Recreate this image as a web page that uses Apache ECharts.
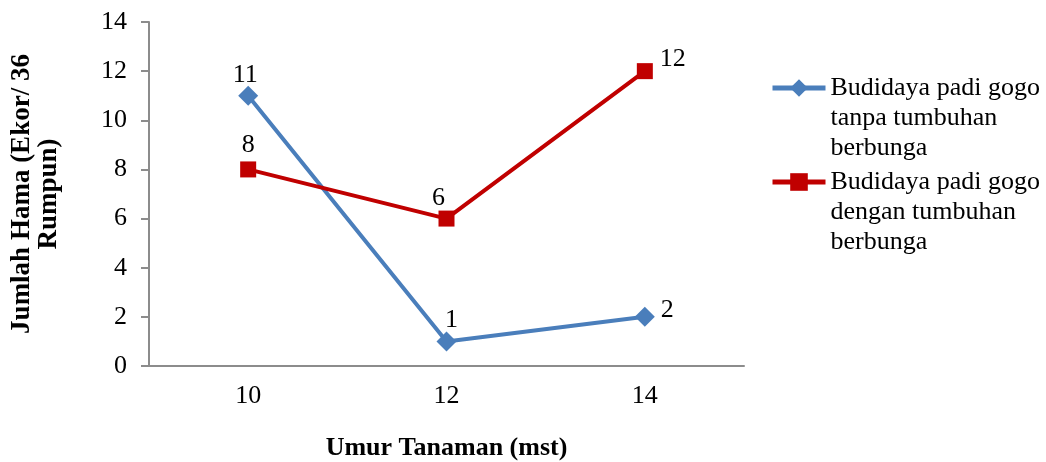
<!DOCTYPE html>
<html><head><meta charset="utf-8">
<script src="https://cdn.jsdelivr.net/npm/echarts@6/dist/echarts.min.js"></script>
<style>html,body{margin:0;padding:0;background:#fff}#c{width:1046px;height:462px}</style>
</head><body><div id="c"></div>
<script>
const categories = ['10', '12', '14'];
const seriesNames = ['Budidaya padi gogo tanpa tumbuhan berbunga', 'Budidaya padi gogo dengan tumbuhan berbunga'];
const legendLabels = ['Budidaya padi gogo\ntanpa tumbuhan\nberbunga', 'Budidaya padi gogo\ndengan tumbuhan\nberbunga'];
const tanpaValues = [11, 1, 2];
const denganValues = [8, 6, 12];
const yTicks = [0, 2, 4, 6, 8, 10, 12, 14];
const xTitle = 'Umur Tanaman (mst)';
const yTitle = 'Jumlah Hama (Ekor/ 36\nRumpun)';

const FONT = '"Liberation Serif", "Times New Roman", serif';
const chart = echarts.init(document.getElementById('c'));
const lab = (pos, off) => ({show: true, position: pos, offset: off});
const tanpaLabels = [lab('top', [-3, 2]), lab('top', [5, 2]), lab('right', [6, -7])];
const denganLabels = [lab('top', [0, -3]), lab('top', [-8, 1]), lab('right', [7, -12])];

function legendCfg(i, top) {
  return {
    data: [seriesNames[i]], orient: 'vertical', left: 770, top: top, padding: 0,
    itemWidth: 53, itemHeight: 22, itemGap: 0,
    lineStyle: {width: 5},
    formatter: () => '\n\n' + legendLabels[i],
    textStyle: {fontFamily: FONT, fontSize: 26, color: '#000', lineHeight: 30},
  };
}

chart.setOption({
  animation: false,
  textStyle: {fontFamily: FONT},
  grid: {left: 149, right: 302, top: 22, bottom: 96, containLabel: false, outerBoundsMode: 'none'},
  legend: [legendCfg(0, 13), legendCfg(1, 107)],
  xAxis: {
    type: 'category', data: categories, boundaryGap: true,
    name: xTitle, nameLocation: 'middle', nameGap: 69,
    nameTextStyle: {fontFamily: FONT, fontSize: 26, fontWeight: 'bold', color: '#000'},
    axisLine: {lineStyle: {color: '#8c8c8c', width: 2}},
    axisTick: {show: false},
    axisLabel: {fontFamily: FONT, fontSize: 26, color: '#000', margin: 17}
  },
  yAxis: {
    type: 'value', min: 0, max: 14, interval: 2,
    name: yTitle, nameLocation: 'middle', nameGap: 86, nameRotate: 90,
    nameTextStyle: {fontFamily: FONT, fontSize: 27, fontWeight: 'bold', color: '#000', lineHeight: 27},
    axisLine: {show: true, lineStyle: {color: '#8c8c8c', width: 2}},
    axisTick: {show: true, length: 8, lineStyle: {color: '#8c8c8c', width: 2}},
    splitLine: {show: false},
    axisLabel: {fontFamily: FONT, fontSize: 26, color: '#000', margin: 22,
      formatter: v => yTicks.includes(v) ? String(v) : ''}
  },
  series: [
    {
      name: seriesNames[0], type: 'line',
      data: tanpaValues.map((v, i) => ({value: v, label: tanpaLabels[i]})),
      symbol: 'diamond', symbolSize: 20,
      lineStyle: {color: '#4A7EBB', width: 4},
      itemStyle: {color: '#4A7EBB'},
      label: {fontFamily: FONT, fontSize: 26, color: '#000', distance: 0}
    },
    {
      name: seriesNames[1], type: 'line',
      data: denganValues.map((v, i) => ({value: v, label: denganLabels[i]})),
      symbol: 'rect', symbolSize: 16,
      lineStyle: {color: '#C00000', width: 4},
      itemStyle: {color: '#C00000'},
      label: {fontFamily: FONT, fontSize: 26, color: '#000', distance: 0}
    }
  ]
});
</script></body></html>
